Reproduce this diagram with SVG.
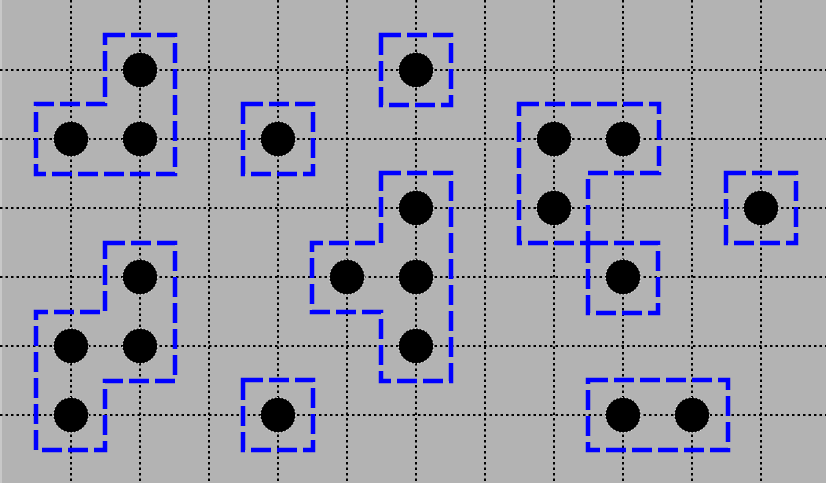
<svg xmlns="http://www.w3.org/2000/svg" width="826" height="483" viewBox="0 0 826 483">
<style>
.grid line{stroke:#000;stroke-width:2;stroke-dasharray:2.5 3}
.piece path{fill:none;stroke:#0000ff;stroke-width:4.5;stroke-dasharray:20 6;stroke-linejoin:miter}
.piece circle{fill:#000;stroke:#fff;stroke-width:1;stroke-dasharray:1.5 2}
</style>
<rect x="0" y="0" width="826" height="483" fill="#b3b3b3"/>
<line x1="1" y1="0" x2="1" y2="483" stroke="#c8c8c8" stroke-width="2"/>
<g class="grid" id="grid">
<line x1="0" y1="70" x2="826" y2="70"/>
<line x1="0" y1="139" x2="826" y2="139"/>
<line x1="0" y1="208" x2="826" y2="208"/>
<line x1="0" y1="277" x2="826" y2="277"/>
<line x1="0" y1="346" x2="826" y2="346"/>
<line x1="0" y1="415" x2="826" y2="415"/>
<line x1="71" y1="0" x2="71" y2="483"/>
<line x1="140" y1="0" x2="140" y2="483"/>
<line x1="209" y1="0" x2="209" y2="483"/>
<line x1="278" y1="0" x2="278" y2="483"/>
<line x1="347" y1="0" x2="347" y2="483"/>
<line x1="416" y1="0" x2="416" y2="483"/>
<line x1="485" y1="0" x2="485" y2="483"/>
<line x1="554" y1="0" x2="554" y2="483"/>
<line x1="623" y1="0" x2="623" y2="483"/>
<line x1="692" y1="0" x2="692" y2="483"/>
<line x1="761" y1="0" x2="761" y2="483"/>
</g>
<g class="piece" id="piece1">
<path d="M105,35 H175 V174 H36 V104 H105 Z"/>
<circle cx="140" cy="70" r="17.5"/><circle cx="71" cy="139" r="17.5"/><circle cx="140" cy="139" r="17.5"/>
</g>
<g class="piece" id="piece2">
<path d="M243,104 H313 V174 H243 Z"/>
<circle cx="278" cy="139" r="17.5"/>
</g>
<g class="piece" id="piece3">
<path d="M381,35 H451 V105 H381 Z"/>
<circle cx="416" cy="70" r="17.5"/>
</g>
<g class="piece" id="piece4">
<path d="M519,104 H659 V173 H588 V243 H519 Z"/>
<circle cx="554" cy="139" r="17.5"/><circle cx="623" cy="139" r="17.5"/><circle cx="554" cy="208" r="17.5"/>
</g>
<g class="piece" id="piece5">
<path d="M588,243 H658 V313 H588 Z"/>
<circle cx="623" cy="277" r="17.5"/>
</g>
<g class="piece" id="piece6">
<path d="M726,173 H796 V243 H726 Z"/>
<circle cx="761" cy="208" r="17.5"/>
</g>
<g class="piece" id="piece7">
<path d="M381,173 H451 V381 H381 V312 H312 V243 H381 Z"/>
<circle cx="416" cy="208" r="17.5"/><circle cx="347" cy="277" r="17.5"/><circle cx="416" cy="277" r="17.5"/><circle cx="416" cy="346" r="17.5"/>
</g>
<g class="piece" id="piece8">
<path d="M105,243 H175 V381 H105 V450 H36 V312 H105 Z"/>
<circle cx="140" cy="277" r="17.5"/><circle cx="71" cy="346" r="17.5"/><circle cx="140" cy="346" r="17.5"/><circle cx="71" cy="415" r="17.5"/>
</g>
<g class="piece" id="piece9">
<path d="M243,380 H313 V450 H243 Z"/>
<circle cx="278" cy="415" r="17.5"/>
</g>
<g class="piece" id="piece10">
<path d="M588,380 H728 V450 H588 Z"/>
<circle cx="623" cy="415" r="17.5"/><circle cx="692" cy="415" r="17.5"/>
</g>
</svg>
